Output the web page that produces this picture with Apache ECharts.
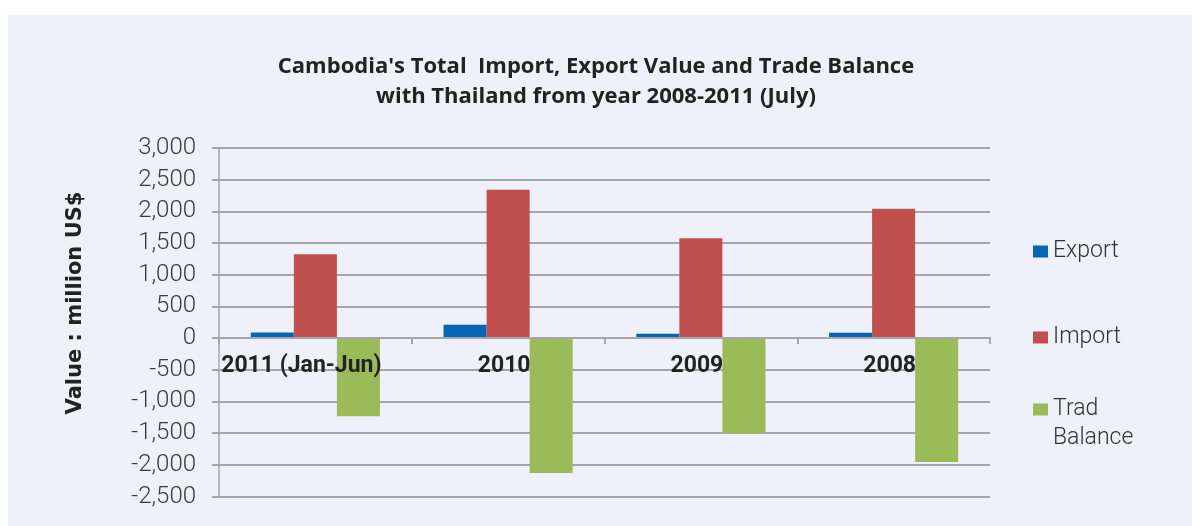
<!DOCTYPE html>
<html>
<head>
<meta charset="utf-8">
<script src="https://cdn.jsdelivr.net/npm/echarts@6/dist/echarts.min.js"></script>
<style>
  html, body { margin: 0; padding: 0; background: #ffffff; }
  #main { width: 1192px; height: 526px; }
</style>
</head>
<body>
<div id="main"></div>
<script>
// data (million US$)
var categories = ['2011 (Jan-Jun)', '2010', '2009', '2008'];
var exportValues = [90, 212, 70, 85];
var importValues = [1325, 2340, 1577, 2040];
var balanceValues = [-1235, -2128, -1507, -1955];
var seriesNames = ['Export', 'Import', 'Trad Balance'];
var seriesColors = ['#0466b4', '#c0504d', '#9bbb59'];
var yMin = -2500, yMax = 3000, yStep = 500;

var dom = document.getElementById('main');
var myChart = echarts.init(dom);

var gridColor = '#a5a5ad';
var gridTop = 148, gridBottom = 29.5, chartHeight = 526;
// the category axis sits on the zero line
var plotHeight = chartHeight - gridTop - gridBottom;
var zeroOffset = -plotHeight * (-yMin) / (yMax - yMin);

function legendFor(name, top, formatter) {
    var lg = {
        data: [name],
        orient: 'vertical',
        left: 1033,
        top: top,
        padding: 0,
        icon: 'rect',
        itemWidth: 15,
        itemHeight: 12,
        itemGap: 6,
        selectedMode: false,
        textStyle: {
            fontFamily: 'Roboto',
            fontWeight: 300,
            fontSize: 23,
            color: '#333333',
            lineHeight: 29
        }
    };
    if (formatter) lg.formatter = formatter;
    return lg;
}

var option = {
    backgroundColor: '#ffffff',
    animation: false,
    graphic: [
        {
            type: 'rect',
            z: -10,
            shape: { x: 8, y: 15, width: 1184, height: 511 },
            style: { fill: '#eef1fa' }
        },
        {
            type: 'text',
            x: 76,
            y: 303,
            rotation: Math.PI / 2,
            style: {
                text: 'Value : million US$',
                fontFamily: 'DejaVu Sans',
                fontWeight: 'bold',
                fontSize: 21,
                fill: '#222222',
                textAlign: 'center',
                textVerticalAlign: 'middle'
            }
        }
    ],
    title: {
        text: "Cambodia's Total  Import, Export Value and Trade Balance\nwith Thailand from year 2008-2011 (July)",
        left: 'center',
        top: 52,
        padding: 0,
        textStyle: {
            fontFamily: 'Open Sans',
            fontWeight: 'bold',
            fontSize: 22,
            lineHeight: 30,
            color: '#222222'
        }
    },
    legend: [
        legendFor('Export', 237),
        legendFor('Import', 323),
        legendFor('Trad Balance', 366, function () { return ' \nTrad\nBalance'; })
    ],
    grid: {
        left: 219,
        right: 202,
        top: gridTop,
        bottom: gridBottom,
        containLabel: false
    },
    xAxis: {
        type: 'category',
        data: categories,
        z: 10,
        offset: zeroOffset,
        axisLine: { onZero: false, lineStyle: { color: gridColor, width: 2 } },
        axisTick: { show: true, length: 6, lineStyle: { color: gridColor, width: 2 } },
        axisLabel: {
            interval: 0,
            margin: 17,
            fontFamily: 'Roboto',
            fontWeight: 'bold',
            fontSize: 23,
            color: '#222222',
            formatter: function (v, i) {
                return i === 0 ? '{first|' + v + '}' : '{rest|' + v + '}';
            },
            rich: {
                first: { fontFamily: 'Roboto', fontWeight: 'bold', fontSize: 23, color: '#222222', padding: [0, 28, 0, 0] },
                rest: { fontFamily: 'Roboto', fontWeight: 'bold', fontSize: 23, color: '#222222', padding: [0, 8, 0, 0] }
            }
        }
    },
    yAxis: {
        type: 'value',
        min: yMin,
        max: yMax,
        interval: yStep,
        axisLine: { show: true, lineStyle: { color: gridColor, width: 1.5 } },
        axisTick: { show: true, length: 7, lineStyle: { color: gridColor, width: 2 } },
        splitLine: { show: true, lineStyle: { color: gridColor, width: 2 } },
        axisLabel: {
            margin: 23,
            fontFamily: 'Roboto',
            fontWeight: 300,
            fontSize: 24,
            color: '#3a3a3a'
        }
    },
    series: [
        {
            name: seriesNames[0],
            type: 'bar',
            data: exportValues,
            barGap: 0,
            barCategoryGap: '33%',
            itemStyle: { color: seriesColors[0] }
        },
        {
            name: seriesNames[1],
            type: 'bar',
            data: importValues,
            itemStyle: { color: seriesColors[1] }
        },
        {
            name: seriesNames[2],
            type: 'bar',
            data: balanceValues,
            itemStyle: { color: seriesColors[2] }
        }
    ]
};

if (option && typeof option === 'object') {
    myChart.setOption(option, true);
}
</script>
</body>
</html>
